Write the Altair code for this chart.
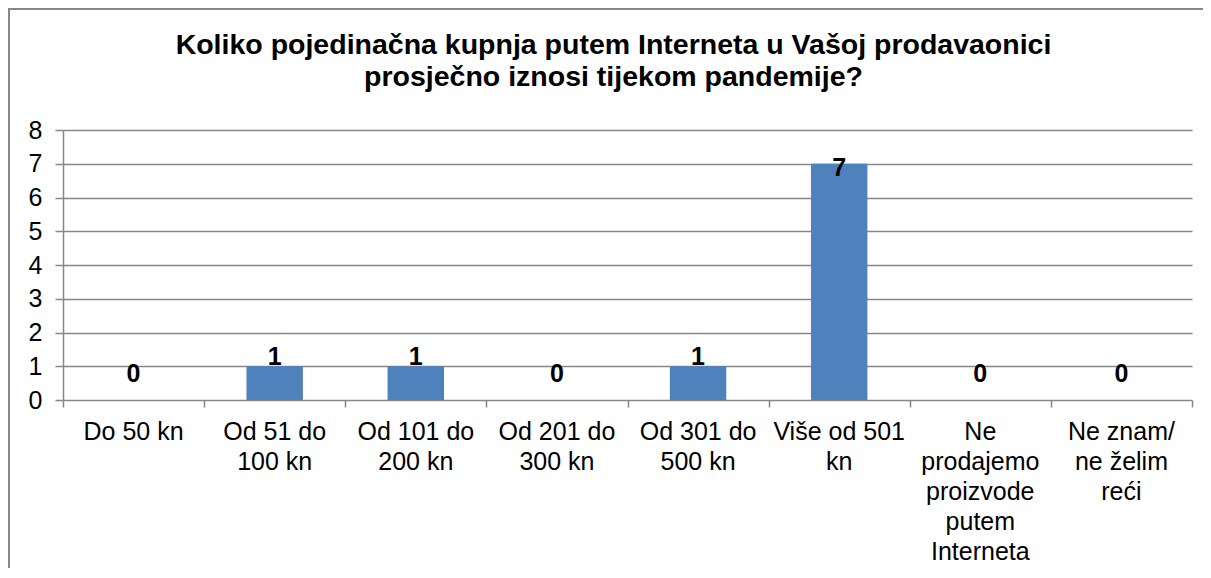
import altair as alt
import pandas as pd

# ---- data ----
categories = [
    "Do 50 kn",
    "Od 51 do\n100 kn",
    "Od 101 do\n200 kn",
    "Od 201 do\n300 kn",
    "Od 301 do\n500 kn",
    "Više od 501\nkn",
    "Ne\nprodajemo\nproizvode\nputem\nInterneta",
    "Ne znam/\nne želim\nreći",
]
values = [0, 1, 1, 0, 1, 7, 0, 0]
title_lines = [
    "Koliko pojedinačna kupnja putem Interneta u Vašoj prodavaonici",
    "prosječno iznosi tijekom pandemije?",
]
y_ticks = [0, 1, 2, 3, 4, 5, 6, 7, 8]
boundaries = [0, 1, 2, 3, 4, 5, 6, 7, 8]

df = pd.DataFrame({"kategorija": categories, "broj": values})

FONT = "Liberation Sans"
GREY = "#878787"
W, H = 1129, 270
PAD = {"left": 55, "top": 122, "right": 11, "bottom": 168}

x_enc = alt.X(
    "kategorija:N",
    sort=None,
    scale=alt.Scale(paddingInner=0.6, paddingOuter=0.3),
    axis=alt.Axis(
        title=None, labelAngle=0, ticks=False, domain=False,
        labelExpr="split(datum.label, '\\n')",
        labelFont=FONT, labelFontSize=25, labelColor="black",
        labelPadding=19, labelLineHeight=30, labelBaseline="top",
        labelLimit=400, labelOverlap=False, orient="bottom",
    ),
)
y_enc = alt.Y(
    "broj:Q",
    scale=alt.Scale(domain=[0, 8], nice=False),
    axis=alt.Axis(
        values=y_ticks, title=None, grid=True, gridColor=GREY, gridWidth=1.5,
        domainColor=GREY, domainWidth=1.5, tickColor=GREY, tickWidth=1.5,
        tickSize=8, labelFont=FONT, labelFontSize=25, labelColor="black",
        labelPadding=13,
    ),
)

# chart frame (only its top and left edges fall inside the window)
frame_data = pd.DataFrame({"f": [0]})
frame_left = alt.Chart(frame_data).mark_rule(color=GREY, strokeWidth=2).encode(
    x=alt.value(-PAD["left"] + 1),
    y=alt.value(-PAD["top"]), y2=alt.value(H + PAD["bottom"]),
)
frame_top = alt.Chart(frame_data).mark_rule(color=GREY, strokeWidth=2).encode(
    x=alt.value(-PAD["left"]), x2=alt.value(W + PAD["right"]),
    y=alt.value(-PAD["top"] + 1),
)

bars = alt.Chart(df).mark_bar(color="#4F81BD").encode(x=x_enc, y=y_enc)

def label_layer(cond, dy):
    return alt.Chart(df).transform_filter(cond).mark_text(
        font=FONT, fontWeight="bold", fontSize=25, color="black",
        baseline="alphabetic", dy=dy,
    ).encode(x=x_enc, y=y_enc, text="broj:Q")

lab0 = label_layer("datum.broj == 0", -18)
lab1 = label_layer("datum.broj > 0 && datum.broj < 7", -1)
lab7 = label_layer("datum.broj >= 7", 12)

main = alt.layer(bars, lab0, lab1, lab7)

tick_layer = alt.Chart(pd.DataFrame({"b": boundaries})).mark_point(opacity=0).encode(
    x=alt.X(
        "b:Q",
        scale=alt.Scale(domain=[0, 8], nice=False, zero=False),
        axis=alt.Axis(
            orient="bottom", values=boundaries, labels=False, grid=False,
            domain=False, tickSize=7, tickColor=GREY, tickWidth=1.5, title=None,
        ),
    )
)

chart = (
    alt.layer(frame_left, frame_top, main, tick_layer)
    .resolve_scale(x="independent")
    .properties(
        width=W,
        height=H,
        padding=PAD,
        autosize=alt.AutoSizeParams(type="none"),
        background="white",
        title=alt.Title(
            text=title_lines, font=FONT, fontSize=28.5, fontWeight="bold",
            color="black", lineHeight=32, anchor="middle", frame="group",
            offset=-84, dx=-14,
        ),
    )
    .configure_view(strokeWidth=0)
)

chart.save("out.html", embed_options={"renderer": "svg", "actions": False})
